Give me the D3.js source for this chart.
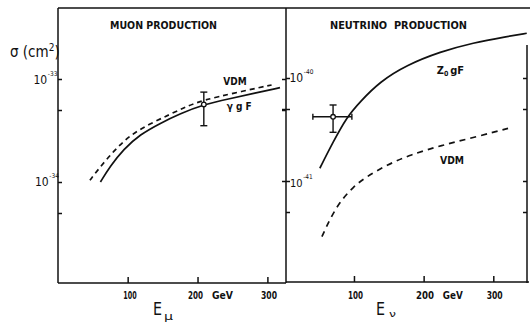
<!DOCTYPE html>
<html><head><meta charset="utf-8">
<script src="https://cdn.jsdelivr.net/npm/d3@7"></script>
<style>
body{margin:0;background:#fff}
svg{display:block}
text{font-family:"DejaVu Sans Condensed","DejaVu Sans",sans-serif;font-weight:bold;fill:#111}
</style>
</head><body>
<svg id="c" width="530" height="329"></svg>
<script>
// ---- data ----
const xTickValues = [100, 200, 300];
const xTickLabels = ["100", "200", "300"];
const unitLabel = "GeV";

// Muon production (sigma in cm^2 vs E_mu in GeV)
const muonGFE = [61, 75, 94, 118, 146, 175, 209, 246, 282, 318];
const muonGFS = [1.0e-34, 1.42e-34, 2.08e-34, 2.9e-34, 3.7e-34, 4.6e-34, 5.66e-34, 6.43e-34, 7.28e-34, 8.24e-34];
const muonVDME = [46, 58, 80, 103, 132, 161, 185, 209, 250, 306];
const muonVDMS = [1.04e-34, 1.33e-34, 2.0e-34, 2.84e-34, 3.68e-34, 4.55e-34, 5.45e-34, 6.25e-34, 7.25e-34, 8.75e-34];
const muonPoint = {E: 209, S: 5.66e-34, Slo: 3.52e-34, Shi: 7.46e-34};
const muonYTicks = [5e-35, 1e-34, 5e-34, 1e-33];

// Neutrino production
const nuGFE = [51, 70, 90, 109, 137, 176, 224, 271, 319, 348];
const nuGFS = [1.33e-41, 2.39e-41, 4.2e-41, 5.9e-41, 9.2e-41, 1.34e-40, 1.8e-40, 2.2e-40, 2.52e-40, 2.72e-40];
const nuVDME = [54, 66, 80, 99, 118, 147, 180, 228, 276, 327];
const nuVDMS = [2.88e-42, 4.34e-42, 6.3e-42, 8.8e-42, 1.10e-41, 1.43e-41, 1.79e-41, 2.24e-41, 2.69e-41, 3.32e-41];
const nuPoint = {E: 70, Elo: 41, Ehi: 97, S: 4.2e-41, Slo: 2.97e-41, Shi: 5.47e-41};
const nuYTicks = [5e-42, 1e-41, 5e-41, 1e-40];

// ---- layout ----
const svg = d3.select("#c");
const ink = "#111";
const frameTop = 8, frameBottom = 283;
const xL = d3.scaleLinear().domain([0, 300]).range([57.8, 267.4]);
const yL = d3.scaleLog().domain([1e-34, 1e-33]).range([182, 79]);
const xR = d3.scaleLinear().domain([0, 300]).range([284.3, 493.3]);
const yR = d3.scaleLog().domain([1e-41, 1e-40]).range([181, 78]);
const leftX = 58, divX = 286, rightX = 527;

// frame lines
const frame = svg.append("g").attr("stroke", ink).attr("stroke-width", 1.5).attr("fill", "none");
frame.append("line").attr("x1", leftX).attr("x2", 530).attr("y1", frameTop).attr("y2", frameTop);
frame.append("line").attr("x1", leftX).attr("x2", leftX).attr("y1", frameTop).attr("y2", frameBottom);
frame.append("line").attr("x1", divX).attr("x2", divX).attr("y1", frameTop).attr("y2", frameBottom);
frame.append("line").attr("x1", leftX).attr("x2", divX).attr("y1", frameBottom).attr("y2", frameBottom);
frame.append("line").attr("x1", divX).attr("x2", 529).attr("y1", frameBottom - 1).attr("y2", frameBottom - 1);
frame.append("line").attr("x1", rightX).attr("x2", rightX).attr("y1", 45).attr("y2", frameBottom);

function styleAxis(g) {
  g.select(".domain").remove();
  g.selectAll(".tick line").attr("stroke", ink).attr("stroke-width", 1.5);
  g.selectAll(".tick text").remove();
}
// x ticks
svg.append("g").attr("transform", `translate(0,${frameBottom})`)
  .call(d3.axisBottom(xL).tickValues(xTickValues).tickSize(-6)).call(styleAxis);
svg.append("g").attr("transform", `translate(0,${frameBottom - 1})`)
  .call(d3.axisBottom(xR).tickValues(xTickValues).tickSize(-6)).call(styleAxis);
// y ticks
svg.append("g").attr("transform", `translate(${leftX},0)`)
  .call(d3.axisRight(yL).tickValues(muonYTicks).tickSize(4)).call(styleAxis);
svg.append("g").attr("transform", `translate(${divX},0)`)
  .call(d3.axisLeft(yL).tickValues(muonYTicks.slice(2)).tickSize(4)).call(styleAxis);
svg.append("g").attr("transform", `translate(${divX},0)`)
  .call(d3.axisRight(yR).tickValues(nuYTicks).tickSize(4)).call(styleAxis);
svg.append("g").attr("transform", `translate(${divX},0)`)
  .call(d3.axisLeft(yR).tickValues(nuYTicks.slice(1, 3)).tickSize(4)).call(styleAxis);
svg.append("g").attr("transform", `translate(${rightX},0)`)
  .call(d3.axisLeft(yR).tickValues(nuYTicks).tickSize(4)).call(styleAxis);

// curves
function curve(E, S, x, y, dashed, dash) {
  const pts = E.map((e, i) => [x(e), y(S[i])]);
  svg.append("path").attr("d", d3.line().curve(d3.curveBasis)(pts))
    .attr("fill", "none").attr("stroke", ink).attr("stroke-width", 1.7)
    .attr("stroke-dasharray", dashed ? dash : null);
}
curve(muonGFE, muonGFS, xL, yL, false);
curve(muonVDME, muonVDMS, xL, yL, true, "5,4");
curve(nuGFE, nuGFS, xR, yR, false);
curve(nuVDME, nuVDMS, xR, yR, true, "6,5");

// error bars
function vbar(xp, y1, y2) {
  svg.append("line").attr("x1", xp).attr("x2", xp).attr("y1", y1).attr("y2", y2).attr("stroke", ink).attr("stroke-width", 1.4);
  [y1, y2].forEach(yy => svg.append("line").attr("x1", xp - 3.5).attr("x2", xp + 3.5).attr("y1", yy).attr("y2", yy).attr("stroke", ink).attr("stroke-width", 1.4));
}
function hbar(yp, x1, x2) {
  svg.append("line").attr("x1", x1).attr("x2", x2).attr("y1", yp).attr("y2", yp).attr("stroke", ink).attr("stroke-width", 1.4);
  [x1, x2].forEach(xx => svg.append("line").attr("x1", xx).attr("x2", xx).attr("y1", yp - 3).attr("y2", yp + 3).attr("stroke", ink).attr("stroke-width", 1.4));
}
vbar(xL(muonPoint.E), yL(muonPoint.Shi), yL(muonPoint.Slo));
svg.append("circle").attr("cx", xL(muonPoint.E)).attr("cy", yL(muonPoint.S)).attr("r", 2.3).attr("fill", "#fff").attr("stroke", ink).attr("stroke-width", 1.3);
vbar(xR(nuPoint.E), yR(nuPoint.Shi), yR(nuPoint.Slo));
hbar(yR(nuPoint.S), xR(nuPoint.Elo), xR(nuPoint.Ehi));
svg.append("circle").attr("cx", xR(nuPoint.E)).attr("cy", yR(nuPoint.S)).attr("r", 2.3).attr("fill", "#fff").attr("stroke", ink).attr("stroke-width", 1.3);

// text helper
function txt(x, y, s, size, w, anchor) {
  const t = svg.append("text").attr("x", x).attr("y", y).attr("font-size", size).text(s);
  if (w) t.attr("textLength", w).attr("lengthAdjust", "spacingAndGlyphs");
  if (anchor) t.attr("text-anchor", anchor);
  return t;
}
// titles
txt(110, 29, "MUON PRODUCTION", 11, 107);
txt(330, 29, "NEUTRINO  PRODUCTION", 11, 137).style("white-space", "pre");

// x tick labels
const lblL = [[123.3, 13.4], [188, 15], [261, 16]];
const lblR = [[348, 15], [416, 18], [486.7, 16]];
xTickLabels.forEach((s, i) => {
  txt(lblL[i][0], 299, s, 11, lblL[i][1]);
  txt(lblR[i][0], 298.5, s, 11, lblR[i][1]);
});
txt(212, 299, unitLabel, 11, 21);
txt(442.7, 298.5, unitLabel, 11, 20);

// axis titles
txt(153, 315, "E", 17, 9).style("font-weight", "normal");
txt(164, 320, "μ", 11, 9).style("font-weight", "normal");
txt(376, 314.5, "E", 17, 9).style("font-weight", "normal");
txt(389, 317, "ν", 9, 7).style("font-weight", "normal");

// sigma label
const sg = svg.append("text").attr("x", 10).attr("y", 57).attr("font-size", 15).style("font-weight", "normal");
sg.append("tspan").text("σ (cm");
sg.append("tspan").attr("font-size", 10).attr("dy", -6).text("2");
sg.append("tspan").attr("dy", 6).text(")");

// y tick labels (base and exponent in one text element, natural widths)
function pow(x, y, exp, size) {
  const t = svg.append("text").attr("x", x).attr("y", y).attr("font-size", size).style("font-weight", "normal");
  t.append("tspan").text("10");
  t.append("tspan").attr("font-size", 6.5).attr("dx", 0.6).attr("dy", -8).text(exp);
}
pow(33.5, 83.5, "-33", 12);
pow(35, 186, "-34", 12);
pow(289.5, 82, "-40", 12);
pow(290, 186.5, "-41", 11);

// curve labels
txt(223.3, 85, "VDM", 10, 23.4);
txt(226.7, 110, "γ g F", 10, 25).style("white-space", "pre");
const zl = svg.append("text").attr("x", 436.7).attr("y", 74).attr("font-size", 11);
zl.append("tspan").text("Z");
zl.append("tspan").attr("font-size", 7).attr("dy", 2).text("0");
zl.append("tspan").attr("dy", -2).attr("dx", 2).text("gF");
txt(440, 164, "VDM", 10, 24);
</script>
</body></html>
